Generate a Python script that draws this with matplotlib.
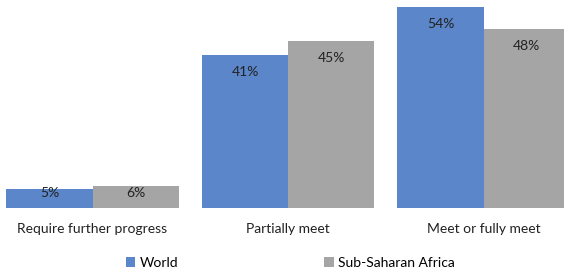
import matplotlib
matplotlib.use("Agg")
import matplotlib.pyplot as plt
import numpy as np

categories = ["Require further progress", "Partially meet", "Meet or fully meet"]
series_names = ["World", "Sub-Saharan Africa"]
world = [5, 41, 54]
ssa = [6, 45, 48]
colors = ["#5b86c9", "#a5a5a5"]

plt.rcParams['font.family'] = ['Lato', 'DejaVu Sans']

W, H = 564, 276
PX_PER = 3.72
fig = plt.figure(figsize=(W/100, H/100), dpi=100)
unit = 195.5
left_px = 92.5 - 0.5*unit
ax = fig.add_axes([left_px/W, (H-208)/H, 3*unit/W, 55*PX_PER/H])
x = np.arange(len(categories))
bw = 0.44
b1 = ax.bar(x - bw/2, world, bw, color=colors[0], label=series_names[0])
b2 = ax.bar(x + bw/2, ssa, bw, color=colors[1], label=series_names[1])
for bars, vals in ((b1, world), (b2, ssa)):
    for r, v in zip(bars, vals):
        hpx = v * PX_PER
        off = -min(17, hpx - 15)
        ax.annotate(f"{v}%", (r.get_x() + r.get_width()/2, v), xytext=(0, off),
                    textcoords="offset pixels",
                    ha="center", va="center", fontsize=10, color="#222222")
ax.set_xlim(-0.5, 2.5)
ax.set_ylim(0, 55)
for s in ax.spines.values():
    s.set_visible(False)
ax.set_yticks([])
ax.set_xticks(x)
ax.set_xticklabels(categories, fontsize=10, color="#222222")
ax.tick_params(axis='x', length=0, pad=11)
fig.legend(handles=[b1, b2], labels=series_names, loc="center", bbox_to_anchor=(290/W, 1-263/H),
           ncol=2, frameon=False, fontsize=10, handlelength=0.7, handleheight=0.7,
           handletextpad=0.3, columnspacing=10.5)
fig.savefig("out.png", dpi=100)
